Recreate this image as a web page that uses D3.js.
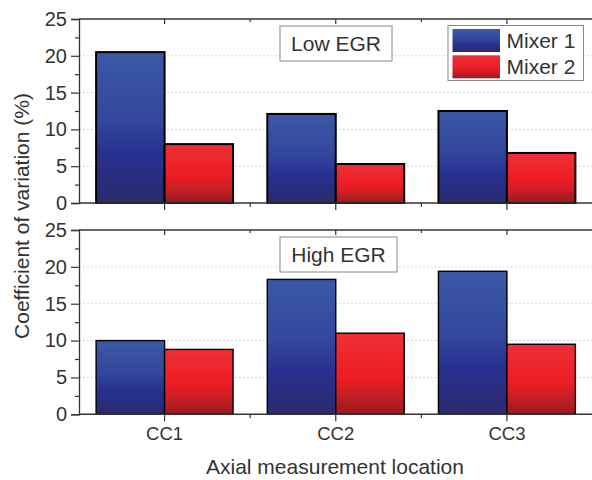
<!DOCTYPE html>
<html>
<head>
<meta charset="utf-8">
<script src="https://cdn.jsdelivr.net/npm/d3@7"></script>
<style>
  body { margin: 0; background: #fff; }
  svg { display: block; font-family: "Liberation Sans", Arial, sans-serif; }
  .grid line { stroke: #c8c8c8; stroke-dasharray: 1.5 2.5; }
</style>
</head>
<body>
<div id="chart"></div>
<script>
// data
const categories = ['CC1', 'CC2', 'CC3'];
const series = ['Mixer 1', 'Mixer 2'];
const lowEgr = [[20.5, 8.0], [12.1, 5.3], [12.5, 6.8]];
const highEgr = [[10.0, 8.8], [18.3, 11.0], [19.4, 9.5]];
const panelLabels = ['Low EGR', 'High EGR'];
const yTicks = [0, 5, 10, 15, 20, 25];

const width = 592, height = 480;
const left = 79, right = 592.5;
const panels = [
  {top: 19, bottom: 203, values: lowEgr, label: panelLabels[0], stroke: 2},
  {top: 230, bottom: 414.3, values: highEgr, label: panelLabels[1], stroke: 1.4}
];

const svg = d3.select('#chart').append('svg')
  .attr('width', width)
  .attr('height', height);

// gradients
const defs = svg.append('defs');
const grads = [
  {id: 'gBlue', stops: [[0, '#3b58a6'], [0.45, '#33479d'], [0.68, '#273090'], [1, '#2a2a6c']]},
  {id: 'gRed', stops: [[0, '#ee3035'], [0.55, '#ed1c24'], [0.75, '#c81f25'], [1, '#981a1e']]}
];
grads.forEach(g => {
  const lg = defs.append('linearGradient').attr('id', g.id)
    .attr('x1', 0).attr('y1', 0).attr('x2', 0).attr('y2', 1);
  g.stops.forEach(s => lg.append('stop').attr('offset', s[0]).attr('stop-color', s[1]));
});
const fills = ['url(#gBlue)', 'url(#gRed)'];

const x0 = d3.scaleBand().domain(categories).range([left, right]).paddingInner(0.2).paddingOuter(0.1);
const x1 = d3.scaleBand().domain(series).range([0, x0.bandwidth()]);
const xEdge = d3.scaleLinear().domain([0, categories.length]).range([left, right]);

panels.forEach((p, pi) => {
  const y = d3.scaleLinear().domain([0, 25]).range([p.bottom, p.top]);
  const g = svg.append('g');

  // grid
  g.append('g').attr('class', 'grid')
    .selectAll('line').data(yTicks.filter(t => t > 0 && t < 25)).join('line')
    .attr('x1', left).attr('x2', right)
    .attr('y1', d => y(d)).attr('y2', d => y(d));

  // bars
  categories.forEach((c, ci) => {
    g.selectAll(null).data(p.values[ci]).join('rect')
      .attr('x', (d, i) => x0(c) + x1(series[i]))
      .attr('y', d => y(d))
      .attr('width', x1.bandwidth())
      .attr('height', d => y(0) - y(d))
      .attr('fill', (d, i) => fills[i])
      .attr('stroke', '#000')
      .attr('stroke-width', p.stroke);
  });

  // y axis
  const yAxis = d3.axisLeft(y).tickValues(yTicks).tickSize(8).tickPadding(4);
  const ya = g.append('g').attr('transform', `translate(${left},0)`).call(yAxis);
  ya.select('.domain').attr('stroke', '#333').attr('stroke-width', 1.3);
  ya.selectAll('.tick line').attr('stroke', '#333').attr('stroke-width', 1.2);
  ya.selectAll('text').attr('font-size', 20).attr('fill', '#333');
  const yMinor = d3.axisLeft(y).tickValues(d3.range(2.5, 25, 5)).tickSize(4).tickFormat('');
  const ym = g.append('g').attr('transform', `translate(${left},0)`).call(yMinor);
  ym.select('.domain').remove();
  ym.selectAll('.tick line').attr('stroke', '#333').attr('stroke-width', 1.2);

  // bottom axis
  const xa = g.append('g').attr('transform', `translate(0,${p.bottom})`)
    .call(d3.axisBottom(x0).tickSize(7).tickPadding(6));
  xa.select('.domain').remove();
  xa.selectAll('.tick line').attr('stroke', '#333').attr('stroke-width', 1.2);
  xa.selectAll('text').attr('font-size', 18.5).attr('fill', '#333')
    .style('display', pi === 1 ? null : 'none');
  g.append('line').attr('x1', left).attr('x2', right)
    .attr('y1', p.bottom).attr('y2', p.bottom)
    .attr('stroke', '#333').attr('stroke-width', 1.5);
  g.selectAll(null).data([1, 2]).join('line')
    .attr('x1', d => xEdge(d)).attr('x2', d => xEdge(d))
    .attr('y1', p.bottom).attr('y2', p.bottom + 4)
    .attr('stroke', '#333').attr('stroke-width', 1.2);

  // top border with inward ticks
  g.append('line').attr('x1', left).attr('x2', right)
    .attr('y1', p.top).attr('y2', p.top)
    .attr('stroke', '#333').attr('stroke-width', 1.3);
  g.selectAll(null).data(categories).join('line')
    .attr('x1', d => x0(d) + x0.bandwidth() / 2).attr('x2', d => x0(d) + x0.bandwidth() / 2)
    .attr('y1', p.top).attr('y2', p.top + 5)
    .attr('stroke', '#333').attr('stroke-width', 1.2);
  g.selectAll(null).data([1, 2]).join('line')
    .attr('x1', d => xEdge(d)).attr('x2', d => xEdge(d))
    .attr('y1', p.top).attr('y2', p.top + 3)
    .attr('stroke', '#333').attr('stroke-width', 1.2);

  // panel label box
  const bx = 280, by = p.top + 7, bw = pi === 0 ? 112 : 117, bh = 35;
  g.append('rect').attr('x', bx).attr('y', by).attr('width', bw).attr('height', bh)
    .attr('fill', '#fff').attr('stroke', '#888').attr('stroke-width', 1);
  g.append('text').attr('x', bx + bw / 2).attr('y', by + 25)
    .attr('text-anchor', 'middle').attr('font-size', 21).attr('fill', '#333')
    .text(p.label);
});

// legend
const lg = svg.append('g').attr('transform', 'translate(448,25.5)');
lg.append('rect').attr('width', 135.5).attr('height', 55)
  .attr('fill', '#fff').attr('stroke', '#888').attr('stroke-width', 1);
series.forEach((s, i) => {
  lg.append('rect').attr('x', 4.5).attr('y', 3.5 + i * 26.3)
    .attr('width', 47.5).attr('height', 23)
    .attr('fill', fills[i]);
  lg.append('text').attr('x', 58.5).attr('y', 22 + i * 26)
    .attr('font-size', 21).attr('fill', '#333').text(s);
});

// axis titles
svg.append('text')
  .attr('transform', 'translate(29,216) rotate(-90)')
  .attr('text-anchor', 'middle').attr('font-size', 21).attr('fill', '#333')
  .text('Coefficient of variation (%)');
svg.append('text')
  .attr('x', 335).attr('y', 474)
  .attr('text-anchor', 'middle').attr('font-size', 21).attr('fill', '#333')
  .text('Axial measurement location');
</script>
</body>
</html>
